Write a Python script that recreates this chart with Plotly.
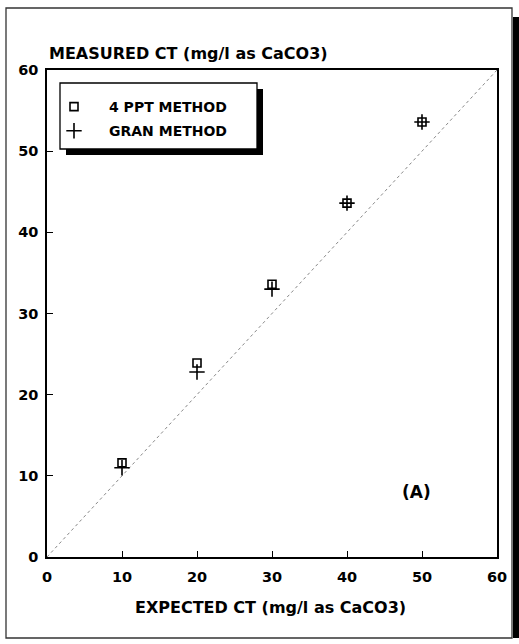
import plotly.graph_objects as go

expected = [10, 20, 30, 40, 50]
ppt4_measured = [11.6, 23.9, 33.6, 43.6, 53.6]
gran_measured = [11.0, 22.8, 33.0, 43.6, 53.6]
line_x = [0, 60]
line_y = [0, 60]
tick_vals = [0, 10, 20, 30, 40, 50, 60]

FONT = "DejaVu Sans"

fig = go.Figure()
fig.add_trace(go.Scatter(x=line_x, y=line_y, mode="lines", showlegend=False,
                         line=dict(color="#888888", width=1, dash="dot")))
fig.add_trace(go.Scatter(x=expected, y=ppt4_measured, mode="markers", name="4 PPT METHOD",
                         legendgroup="a",
                         marker=dict(symbol="square-open", size=8, color="black",
                                     line=dict(width=1.6, color="black"))))
fig.add_trace(go.Scatter(x=expected, y=gran_measured, mode="markers", name="GRAN METHOD",
                         legendgroup="b",
                         marker=dict(symbol="cross-thin", size=11, color="black",
                                     line=dict(width=1.6, color="black"))))

axis_common = dict(range=[0, 60], tickvals=tick_vals, ticks="inside", ticklen=6,
                   tickwidth=1.3, tickcolor="black", showline=True, linecolor="black",
                   linewidth=1.5, mirror=True, showgrid=False, zeroline=False,
                   tickfont=dict(family=FONT, size=14.5, color="black", weight="bold"))
fig.update_xaxes(**axis_common, ticklabelstandoff=6)
fig.update_yaxes(**axis_common, ticklabelstandoff=4)

fig.add_annotation(text="MEASURED CT (mg/l as CaCO3)", xref="paper", yref="paper",
                   x=0.0, y=(557 - 54) / 487, xanchor="left", yanchor="middle",
                   showarrow=False, font=dict(family=FONT, size=16, color="black", weight="bold"))
fig.add_annotation(text="EXPECTED CT (mg/l as CaCO3)", xref="paper", yref="paper",
                   x=(270 - 47) / 450, y=(557 - 607) / 487, xanchor="center", yanchor="middle",
                   showarrow=False, font=dict(family=FONT, size=16, color="black", weight="bold"))
fig.add_annotation(text="(A)", x=49.3, y=8.0, xref="x", yref="y", showarrow=False,
                   font=dict(family=FONT, size=17, color="black", weight="bold"))

def px(x):
    return (x - 47) / 450

def py(y):
    return (557 - y) / 487

shapes = [
    # outer frame
    dict(type="rect", xref="paper", yref="paper", x0=px(6), x1=px(512), y0=py(638), y1=py(8),
         line=dict(color="#333333", width=1.3), fillcolor="rgba(0,0,0,0)", layer="below"),
    # right shadow of frame
    dict(type="rect", xref="paper", yref="paper", x0=px(513), x1=px(519), y0=py(638), y1=py(17),
         line=dict(width=0), fillcolor="black", layer="below"),
    # legend shadow
    dict(type="rect", xref="paper", yref="paper", x0=px(66), x1=px(263), y0=py(155), y1=py(89),
         line=dict(width=0), fillcolor="black", layer="above"),
    # legend box
    dict(type="rect", xref="paper", yref="paper", x0=px(60), x1=px(257), y0=py(149), y1=py(83),
         line=dict(color="black", width=1.3), fillcolor="white", layer="above"),
]
fig.update_layout(shapes=shapes)

fig.update_layout(
    width=519, height=644,
    margin=dict(l=47, r=22, t=70, b=87),
    paper_bgcolor="white", plot_bgcolor="white",
    legend=dict(x=px(39), y=py(91), xanchor="left", yanchor="top",
                bgcolor="rgba(0,0,0,0)", borderwidth=0,
                font=dict(family=FONT, size=14, color="black", weight="bold"),
                itemwidth=60, tracegroupgap=3),
)

fig.write_html("out.html", config={"displayModeBar": False},
               post_script="document.body.style.margin='0';document.body.style.overflow='hidden';")
